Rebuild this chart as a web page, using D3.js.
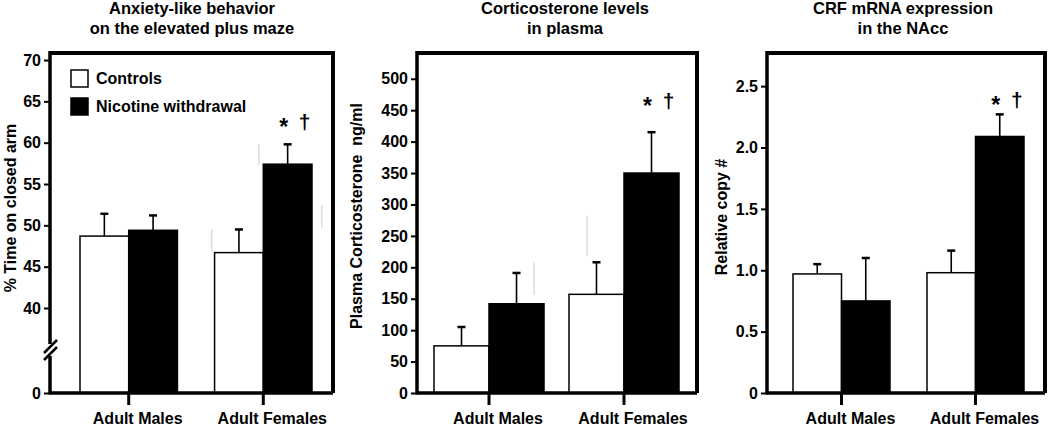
<!DOCTYPE html>
<html>
<head>
<meta charset="utf-8" />
<title>Nicotine withdrawal</title>
<script src="https://cdn.jsdelivr.net/npm/d3@7"></script>
<style>
	body { margin: 0; background: #fff; }
	svg text { font-family: "Liberation Sans", Arial, sans-serif; font-weight: bold; fill: #000; }
</style>
</head>
<body>
<svg id="chart" width="1050" height="426"></svg>

<script>
var groups = ["Adult Males", "Adult Females"];
var series = ["Controls", "Nicotine withdrawal"];

// per group: [controls, nicotine withdrawal]
var anxMean = [[48.7, 49.4], [46.7, 57.4]];
var anxSem  = [[2.7, 1.8], [2.8, 2.4]];
var anxTicks = [0, 40, 45, 50, 55, 60, 65, 70];

var corMean = [[75, 142], [157, 350]];
var corSem  = [[30, 49], [51, 65]];
var corTicks = [0, 50, 100, 150, 200, 250, 300, 350, 400, 450, 500];

var crfMean = [[0.97, 0.75], [0.98, 2.09]];
var crfSem  = [[0.08, 0.35], [0.18, 0.18]];
var crfTicks = [0, 0.5, 1.0, 1.5, 2.0, 2.5];

// faint ghost error bars seen in the scan: [group, offset in half-bands, low, high]
var anxGhost = [[1, -0.06, 46.8, 49.5], [1, 0.91, 57.3, 59.8], [1, 2.2, 49.7, 52.4]];
var corGhost = [[0, 1.82, 156, 208], [1, 0.33, 217, 282]];

// significance marks (* vs controls, † vs males) height in data units
var anxSig = 62.4, corSig = 463, crfSig = 2.38;

var svg = d3.select("#chart");

function drawPanel(cfg) {
	var g = svg.append("g");
	var top = 53, bottom = 393;

	var y = d3.scaleLinear().domain(cfg.yDomain).range(cfg.yRange);
	var x = d3.scaleBand().domain(groups).range(cfg.barRange).paddingInner(cfg.pad);
	var xs = d3.scaleBand().domain(series).range([0, x.bandwidth()]);

	// title
	g.append("text")
		.attr("x", cfg.titleX).attr("y", 14)
		.attr("text-anchor", "middle").style("font-size", "16.5px")
		.text(cfg.title[0]);
	g.append("text")
		.attr("x", cfg.titleX).attr("y", 34)
		.attr("text-anchor", "middle").style("font-size", "16.5px")
		.text(cfg.title[1]);

	// y label
	g.append("text")
		.attr("transform", "translate(" + cfg.labelX + "," + cfg.labelY + ") rotate(-90)")
		.attr("text-anchor", "middle").attr("dominant-baseline", "central")
		.style("font-size", "16px")
		.text(cfg.yLabel);

	// ghost error bars
	cfg.ghost.forEach(function(d) {
		var gx = x(groups[d[0]]) + d[1] * x.bandwidth() / 2;
		g.append("line")
			.attr("x1", gx).attr("x2", gx)
			.attr("y1", y(d[2])).attr("y2", y(d[3]))
			.attr("stroke", "#dcdcdc").attr("stroke-width", 1.5);
	});

	// bars + error bars
	groups.forEach(function(grp, gi) {
		series.forEach(function(s, si) {
			var bx = x(grp) + xs(s), bw = xs.bandwidth();
			var m = cfg.mean[gi][si], e = m + cfg.sem[gi][si];
			var cx = bx + bw / 2;
			g.append("line")
				.attr("x1", cx).attr("x2", cx)
				.attr("y1", y(m)).attr("y2", y(e))
				.attr("stroke", "#000").attr("stroke-width", 1.6);
			g.append("line")
				.attr("x1", cx - 4).attr("x2", cx + 4)
				.attr("y1", y(e)).attr("y2", y(e))
				.attr("stroke", "#000").attr("stroke-width", 2.5);
			g.append("rect")
				.attr("x", bx).attr("y", y(m))
				.attr("width", bw).attr("height", bottom - y(m))
				.attr("fill", si === 0 ? "#fff" : "#000")
				.attr("stroke", "#000").attr("stroke-width", 1.5);
		});
	});

	// frame top and right
	g.append("path")
		.attr("d", "M" + cfg.left + "," + top + "H" + cfg.right + "V" + bottom)
		.attr("fill", "none").attr("stroke", "#000").attr("stroke-width", 4);

	// y axis
	var yAxis = d3.axisLeft(y).tickValues(cfg.ticks).tickSize(6).tickPadding(3)
		.tickFormat(cfg.fmt);
	var ya = g.append("g")
		.attr("transform", "translate(" + cfg.left + ",0)")
		.call(yAxis);
	ya.select(".domain").remove();
	ya.selectAll(".tick line").attr("stroke", "#000").attr("stroke-width", 2);
	ya.selectAll(".tick text").style("font-size", "16px").attr("fill", "#000");

	g.append("line")
		.attr("x1", cfg.left).attr("x2", cfg.left)
		.attr("y1", top - 2).attr("y2", bottom + 1.5)
		.attr("stroke", "#000").attr("stroke-width", 3.5);
	g.append("line")
		.attr("x1", cfg.left).attr("x2", cfg.right)
		.attr("y1", bottom).attr("y2", bottom)
		.attr("stroke", "#000").attr("stroke-width", 3.5);

	// category ticks and labels
	groups.forEach(function(grp) {
		var cx = x(grp) + x.bandwidth() / 2;
		g.append("line")
			.attr("x1", cx).attr("x2", cx)
			.attr("y1", bottom).attr("y2", bottom + 12)
			.attr("stroke", "#000").attr("stroke-width", 3);
		g.append("text")
			.attr("x", cx + 9).attr("y", 424)
			.attr("text-anchor", "middle").style("font-size", "16px")
			.text(grp);
	});

	// significance marks over females / nicotine withdrawal
	var sx = x(groups[1]) + xs(series[1]) + xs.bandwidth() / 2;
	g.append("text")
		.attr("x", sx - 4).attr("y", y(cfg.sig) + 12)
		.attr("text-anchor", "middle").style("font-size", "23px")
		.text("*");
	g.append("text")
		.attr("x", sx + 17).attr("y", y(cfg.sig) + 6)
		.attr("text-anchor", "middle").style("font-size", "21px")
		.text("\u2020");

	return { g: g, y: y, x: x };
}

var p1 = drawPanel({
	left: 50, right: 333, barRange: [80, 312], pad: 0.276,
	yDomain: [0, 40, 70.85], yRange: [393, 308, 53],
	ticks: anxTicks, fmt: d3.format("d"),
	mean: anxMean, sem: anxSem, ghost: anxGhost, sig: anxSig,
	title: ["Anxiety-like behavior", "on the elevated plus maze"], titleX: 192,
	yLabel: "% Time on closed arm", labelX: 10, labelY: 208
});

// axis break on panel 1
p1.g.append("rect")
	.attr("x", 46).attr("y", 344).attr("width", 8).attr("height", 12)
	.attr("fill", "#fff");
p1.g.append("line")
	.attr("x1", 44).attr("y1", 353).attr("x2", 57).attr("y2", 340)
	.attr("stroke", "#000").attr("stroke-width", 2.5);
p1.g.append("line")
	.attr("x1", 44).attr("y1", 360).attr("x2", 57).attr("y2", 347)
	.attr("stroke", "#000").attr("stroke-width", 2.5);

// legend
var legend = p1.g.append("g");
series.forEach(function(s, i) {
	legend.append("rect")
		.attr("x", 71).attr("y", 70 + i * 28)
		.attr("width", 17).attr("height", 17)
		.attr("fill", i === 0 ? "#fff" : "#000")
		.attr("stroke", "#000").attr("stroke-width", 1.5);
	legend.append("text")
		.attr("x", 96).attr("y", 84 + i * 28)
		.style("font-size", "16px")
		.text(s);
});

drawPanel({
	left: 417, right: 697, barRange: [434, 679], pad: 0.185,
	yDomain: [0, 541], yRange: [393, 53],
	ticks: corTicks, fmt: d3.format("d"),
	mean: corMean, sem: corSem, ghost: corGhost, sig: corSig,
	title: ["Corticosterone levels", "in plasma"], titleX: 565,
	yLabel: "Plasma Corticosterone\u00a0 ng/ml", labelX: 356, labelY: 216
});

drawPanel({
	left: 767, right: 1045, barRange: [793, 1024], pad: 0.276,
	yDomain: [0, 2.77], yRange: [393, 53],
	ticks: crfTicks, fmt: function(d) { return d === 0 ? "0" : d3.format(".1f")(d); },
	mean: crfMean, sem: crfSem, ghost: [], sig: crfSig,
	title: ["CRF mRNA expression", "in the NAcc"], titleX: 903,
	yLabel: "Relative copy #", labelX: 721, labelY: 217
});
</script>
</body>
</html>
